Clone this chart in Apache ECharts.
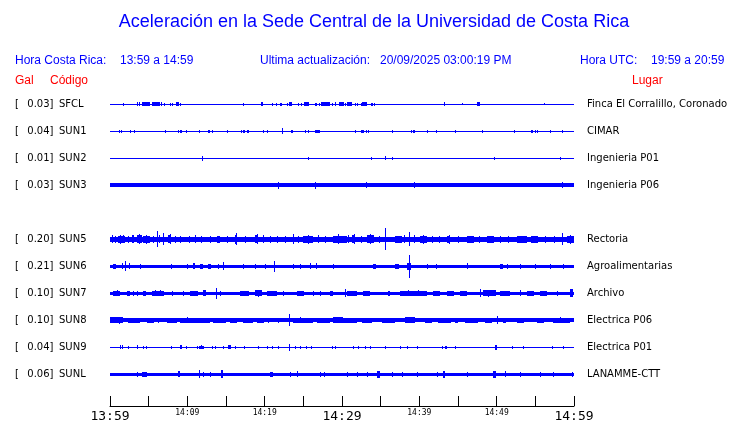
<!DOCTYPE html>
<html>
<head>
<meta charset="utf-8">
<script src="https://cdn.jsdelivr.net/npm/echarts@6/dist/echarts.min.js"></script>
<style>
html,body{margin:0;padding:0;background:#fff;}
#chart{width:740px;height:423px;}
</style>
</head>
<body>
<div id="chart"></div>
<script>
// ---------- data ----------
const titleText = 'Aceleración en la Sede Central de la Universidad de Costa Rica';
const headerLabels = ['Hora Costa Rica:', '13:59 a 14:59', 'Ultima actualización:', '20/09/2025 03:00:19 PM', 'Hora UTC:', '19:59 a 20:59'];
const columnLabels = ['Gal', 'Código', 'Lugar'];
const timeTickLabels = ['13:59', '14:09', '14:19', '14:29', '14:39', '14:49', '14:59']; // every 10 min
const stations = ['SFCL', 'SUN1', 'SUN2', 'SUN3', '', 'SUN5', 'SUN6', 'SUN7', 'SUN8', 'SUN9', 'SUNL'];
const galValues = ['0.03', '0.04', '0.01', '0.03', '', '0.20', '0.21', '0.10', '0.10', '0.04', '0.06'];
const places = ['Finca El Corralillo, Coronado', 'CIMAR', 'Ingenieria P01', 'Ingenieria P06', '', 'Rectoria', 'Agroalimentarias', 'Archivo', 'Electrica P06', 'Electrica P01', 'LANAMME-CTT'];
// background (continuous) half-amplitude of each trace, trace units (27 units = one row)
const baseAmp = [0.5, 0.5, 0.5, 1.8, null, 2.7, 1.7, 1.7, 1.9, 0.6, 1.7];
// bursts: [start minute, end minute, half-amplitude] (minutes after 13:59)
const evSFCL = [[1.72,1.72,1.5],[3.53,3.53,2],[3.79,3.79,2],[4.14,5.17,1.8],[5.39,6.37,1.8],[6.56,6.56,2],[7.02,7.2,1.5],[7.76,7.76,1.5],[8.02,8.02,1.5],[8.53,8.88,1.8],[9.05,9.05,1.5],[17.24,17.24,1.5],[19.53,19.75,1.8],[20.99,20.99,1.5],[21.47,21.47,1.5],[21.98,22.2,1.3],[22.93,22.93,1.5],[23.19,23.63,1.8],[24.35,24.35,1.5],[24.66,24.66,1.5],[25.09,25.77,1.8],[26.51,26.73,1.5],[27.06,27.06,1.5],[27.32,28.45,1.8],[28.75,28.75,1.5],[29.13,29.31,1.8],[29.57,30.17,1.8],[30.43,30.43,1.5],[30.6,31.25,1.8],[31.68,31.68,1.5],[31.9,31.9,1.5],[32.42,32.42,1.5],[32.63,33.27,1.8],[33.75,34.05,1.5],[34.18,34.18,1.5],[43.19,43.32,1.8],[45.48,45.48,1.2],[47.5,47.84,1.8],[56.12,56.12,1]];
const evSUN1 = [[1.19,1.19,1.5],[1.38,1.38,1.5],[2.59,2.59,1.3],[3.04,3.04,1.3],[7.15,7.15,1.3],[8.83,8.83,1.3],[9.05,9.31,1.3],[9.87,9.87,1.3],[11.55,11.55,1.3],[12.63,12.63,1.5],[12.84,12.84,1.5],[13.23,13.23,1.3],[15.17,15.17,1.3],[16.98,16.98,1.3],[17.24,17.46,1.5],[17.67,17.67,1.5],[17.89,17.89,1.5],[19.82,19.82,1.3],[20.34,20.34,1.3],[22.2,22.32,3],[23.4,23.63,1.5],[25.26,25.26,1.3],[25.65,25.65,1.5],[26.51,27.16,1.6],[31.68,31.68,1.3],[32.42,32.76,1.5],[33.06,33.06,1.3],[33.4,33.4,1.3],[36.42,36.42,1.3],[38.88,38.88,1.3],[39.14,39.4,1.5],[40.95,40.95,1.3],[42.11,42.11,1.5],[44.61,44.61,1.3],[48.06,48.19,1.5],[52.28,52.28,1.5],[54.4,54.66,1.5],[54.95,54.95,1.3],[55.25,55.25,1.3],[56.9,56.9,1.3],[58.41,58.41,1.3]];
const evSUN2 = [[11.94,11.94,2.5],[25.65,25.65,1.3],[33.71,33.71,1.5],[35.56,35.56,2],[36.5,36.5,1.5],[49.69,49.69,1.5],[58.19,58.19,1.5]];
const evSUN3 = [[21.77,21.77,3.5],[26.51,26.51,3.5],[33.1,33.1,3],[39.31,39.31,3],[58.4,58.4,3],[59.6,60,2.2]];
const evSUN5 = [[0.22,0.22,4],[0.6,0.6,3.5],[1.08,1.94,3.5],[1.3,1.3,4.5],[1.7,1.7,4],[2.3,2.3,3.5],[2.8,3.02,4],[3.45,4.1,4],[3.7,3.7,5],[4.31,5.17,3.5],[4.6,4.6,4.5],[5.5,5.5,3.5],[6.04,6.04,8],[6.4,6.4,4],[6.9,6.9,6],[7.54,7.97,4],[7.75,7.75,5],[8.4,8.4,3.5],[9.05,9.05,3.5],[10.2,10.2,3.5],[11.0,11.0,4],[11.8,11.8,3.5],[12.93,12.93,3.5],[13.79,14.22,3.3],[15.1,15.1,3.5],[16.16,16.38,4.5],[16.25,16.25,6],[17.4,17.4,3.5],[18.75,19.18,4],[18.95,18.95,5],[19.82,19.82,4],[20.7,20.7,3.5],[21.55,21.55,3.5],[22.6,22.6,3.5],[23.7,23.7,5],[24.3,24.3,3.5],[25.0,26.29,3.5],[25.6,25.6,4.5],[26.94,26.94,4],[27.8,27.8,3.5],[28.88,29.96,3.5],[29.5,29.5,5],[30.82,30.82,4],[29.74,30.6,3.5],[31.25,31.68,4],[31.5,31.5,5],[32.4,32.4,3.5],[33.19,34.05,3.8],[33.6,33.6,5],[34.8,34.8,3.5],[35.56,35.56,11],[36.85,37.7,3.5],[38.0,38.0,4],[38.7,38.7,7],[39.3,39.3,4],[40.09,40.95,3.5],[40.5,40.5,4.5],[41.7,41.7,3.5],[42.6,42.6,3.5],[43.53,43.96,3.5],[43.8,43.8,4.5],[45.0,45.0,3.5],[46.12,46.98,3.3],[47.7,47.7,3.5],[48.71,49.57,3.3],[50.4,50.4,3.5],[51.5,51.5,3.5],[52.59,53.88,3.3],[54.4,55.3,3.3],[56.2,56.2,3.5],[57.4,57.4,3.5],[58.41,58.41,6],[59.06,59.92,3.5],[59.5,59.5,4.5]];
const evSUN6 = [[0.43,0.86,2.5],[1.51,1.51,3],[1.94,1.94,5],[2.5,2.5,3],[3.88,3.88,2.5],[7.84,7.84,2.5],[9.91,9.91,2.5],[10.69,10.99,3],[11.64,12.07,2.5],[12.72,13.15,2.5],[14.0,14.0,2.5],[14.66,14.66,4],[17.24,17.24,2.5],[18.75,18.75,2.5],[20.04,20.04,2.5],[21.25,21.25,5.5],[23.62,23.62,2.5],[24.57,24.57,2.5],[25.86,25.86,3],[26.64,26.64,3],[28.88,28.88,2.5],[34.05,34.4,2.5],[36.85,37.41,2.5],[38.45,38.95,3.5],[38.7,38.7,11.5],[40.95,40.95,2.5],[42.11,42.11,2.5],[46.12,46.12,3],[50.43,50.86,2.5],[51.3,51.3,2.5],[53.02,53.02,2.5],[55.0,55.0,2.5],[56.9,56.9,2.5],[58.62,58.62,2.5]];
const evSUN7 = [[0.43,1.29,2.5],[0.9,0.9,3],[2.16,2.59,2.5],[3.02,3.02,2.5],[3.45,3.45,2.5],[4.31,4.74,2.5],[5.39,6.9,2.7],[5.8,5.8,3.2],[6.5,6.5,3],[7.97,7.97,2.5],[9.48,9.48,2.5],[10.35,11.42,2.5],[12.07,12.5,3],[13.71,13.71,5.3],[14.22,14.22,2.5],[16.81,18.0,2.5],[18.75,19.61,3],[19.2,19.2,3.5],[20.26,21.55,2.5],[22.41,22.41,2.5],[24.14,25.0,2.5],[26.29,26.29,2.5],[27.16,27.16,2.5],[28.45,28.88,2.5],[30.38,30.38,4],[30.6,31.9,2.5],[32.76,33.62,2.5],[35.99,36.2,2.5],[37.5,40.95,2.5],[38.5,38.5,3],[39.8,39.8,3],[41.8,42.67,2.5],[43.53,44.4,2.5],[45.26,46.12,2.5],[47.84,47.84,4],[48.28,49.97,2.8],[48.9,48.9,3.3],[50.43,51.72,2.5],[53.02,53.02,3],[53.88,54.74,2.5],[55.6,56.47,2.5],[57.76,57.76,2.5],[59.5,59.92,3.8]];
const evSUN8 = [[0.0,1.72,2.8],[0.6,0.6,3.2],[1.2,1.2,3.5],[2.37,3.88,2.7],[4.74,5.6,2.5],[6.25,6.25,2.5],[7.33,8.62,2.7],[9.05,12.93,2.5],[10.0,10.0,3],[13.36,15.09,2.5],[15.52,16.38,2.5],[17.24,18.53,2.5],[18.97,19.83,2.5],[20.47,20.47,2.5],[21.77,21.77,2.5],[23.19,23.19,6],[23.7,26.29,2.5],[24.6,24.6,3],[26.72,28.45,2.5],[28.88,30.17,2.8],[29.74,31.9,2.5],[32.55,33.84,2.5],[35.13,36.85,2.5],[38.15,39.44,2.8],[38.8,38.8,3.2],[40.73,41.6,2.5],[42.46,44.18,2.5],[44.61,45.05,2.5],[45.9,47.63,2.5],[48.5,49.35,2.5],[50.0,50.0,4],[50.86,51.29,2.5],[52.59,53.45,2.5],[55.17,56.04,2.5],[57.33,59.5,2.5],[58.2,58.2,3]];
const evSUN9 = [[1.29,1.29,1.8],[1.59,1.59,1.8],[2.37,2.37,1.3],[3.53,3.53,1.8],[4.22,4.22,1.5],[4.66,4.66,1.5],[7.89,7.89,1.3],[9.05,9.27,1.8],[9.83,9.83,1.3],[11.2,11.2,1.3],[11.55,12.16,1.5],[11.8,11.8,2],[13.15,13.15,1.3],[13.58,13.58,1.3],[14.57,14.57,1.3],[15.3,15.73,1.8],[16.16,16.16,1.3],[17.33,17.33,1.5],[19.18,19.18,1.3],[20.26,20.26,1.3],[20.91,20.91,1.3],[21.68,21.68,1.3],[23.19,23.19,3.5],[23.92,23.92,1.5],[24.57,24.57,1.3],[25.34,25.34,1.5],[25.99,25.99,1.3],[28.66,28.66,1.3],[29.09,29.09,1.3],[31.47,31.47,1.3],[32.11,32.11,1.3],[32.97,32.97,1.3],[33.62,33.62,1.3],[35.56,35.56,1.5],[37.5,37.5,1.3],[38.36,38.36,1.3],[39.66,39.66,1.5],[42.89,42.89,1.3],[43.32,43.53,1.5],[44.61,44.61,1.3],[49.78,50.0,2.5],[51.94,51.94,1.3],[53.45,53.45,1.3],[57.11,57.11,1.3],[58.62,58.62,1.3]];
const evSUNL = [[3.53,3.53,2.5],[4.1,4.74,2.5],[8.84,9.05,3],[11.55,11.55,4],[12.07,12.07,2.5],[12.93,12.93,2.5],[14.4,14.7,4],[20.69,21.12,2.5],[23.28,23.28,2.5],[24.14,24.14,3],[27.16,27.16,2.5],[27.67,27.67,2.5],[30.6,30.6,2.5],[31.9,31.9,2.5],[33.19,33.19,2.5],[34.48,34.83,3.5],[36.42,36.42,2.5],[37.72,37.72,2.5],[39.66,39.66,2.5],[42.24,42.24,2.5],[43.1,43.32,3.5],[46.12,46.12,2.5],[49.57,50.0,3.5],[51.08,51.08,3],[53.02,53.02,2.5],[55.6,55.6,2.5],[57.33,57.33,2.5],[59.7,59.7,2.5]];
const stationEvents = [evSFCL, evSUN1, evSUN2, evSUN3, [], evSUN5, evSUN6, evSUN7, evSUN8, evSUN9, evSUNL];

// ---------- build ----------
const TRACE_UNITS_PER_ROW = 27;
const BLUE = '#0000ff';
const traceData = [];
stations.forEach((s, row) => {
  if (!s) return;
  traceData.push([row, 0, 60, baseAmp[row]]);
  stationEvents[row].forEach(e => traceData.push([row, e[0], e[1], e[2]]));
});

const chart = echarts.init(document.getElementById('chart'), null, {renderer: 'canvas'});
const headFont = '12px "Liberation Sans", Arial, sans-serif';
const headX = [15, 120, 260, 380, 580, 651];
const colX = [15, 50, 632];

const graphics = [{
  type: 'text', x: 374, y: 22,
  style: {text: titleText, fill: BLUE, font: '18px "Liberation Sans", Arial, sans-serif', align: 'center', verticalAlign: 'middle'}
}];
headerLabels.forEach((t, i) => graphics.push({
  type: 'text', x: headX[i], y: 61,
  style: {text: t, fill: BLUE, font: headFont, verticalAlign: 'middle'}
}));
columnLabels.forEach((t, i) => graphics.push({
  type: 'text', x: colX[i], y: 81,
  style: {text: t, fill: '#ff0000', font: headFont, verticalAlign: 'middle'}
}));

const labelFont = 'DejaVu Sans';
const option = {
  animation: false,
  backgroundColor: '#ffffff',
  graphic: graphics,
  grid: [
    {left: 110, right: 166, top: 90.8, height: 297},
    {left: 110, right: 166, top: 398, height: 11}
  ],
  xAxis: [
    {gridIndex: 0, type: 'value', min: 0, max: 60, show: false},
    {gridIndex: 1, type: 'value', min: 0, max: 60, interval: 5,
      axisLine: {show: true, lineStyle: {color: '#000', width: 1}},
      axisTick: {show: true, inside: true, length: 10, lineStyle: {color: '#000', width: 1}},
      splitLine: {show: false},
      axisLabel: {
        show: true, margin: 2, showMinLabel: true, showMaxLabel: true, hideOverlap: false,
        formatter: v => {
          if (v % 10 !== 0) return '';
          const t = timeTickLabels[v / 10];
          return v % 30 === 0 ? '{big|' + t + '}' : '{small|' + t + '}';
        },
        rich: {
          big: {fontFamily: 'DejaVu Sans Mono', fontSize: 13, color: '#000', lineHeight: 14, padding: [3, 0, 0, 0]},
          small: {fontFamily: 'DejaVu Sans Mono', fontSize: 8, color: '#000', lineHeight: 9, padding: [1, 0, 0, 0]}
        }
      }
    }
  ],
  yAxis: [
    {gridIndex: 0, type: 'category', inverse: true, data: stations, position: 'left',
      axisLine: {show: false}, axisTick: {show: false}, splitLine: {show: false},
      axisLabel: {
        align: 'left', margin: 95, interval: 0,
        formatter: (v, i) => stations[i] ? '{b|[}{v|' + galValues[i] + ']}{c|' + stations[i] + '}' : '',
        rich: {
          b: {fontFamily: labelFont, fontSize: 10, color: '#000', width: 12.3},
          v: {fontFamily: labelFont, fontSize: 10, color: '#000', width: 31.7},
          c: {fontFamily: labelFont, fontSize: 10, color: '#000'}
        }
      }
    },
    {gridIndex: 0, type: 'category', inverse: true, data: places, position: 'right',
      axisLine: {show: false}, axisTick: {show: false}, splitLine: {show: false},
      axisLabel: {align: 'left', margin: 13, interval: 0, fontFamily: labelFont, fontSize: 10, color: '#000'}
    },
    {gridIndex: 0, type: 'value', inverse: true, min: -0.5, max: 10.5, show: false},
    {gridIndex: 1, type: 'value', show: false}
  ],
  series: [{
    type: 'custom',
    xAxisIndex: 0, yAxisIndex: 2,
    data: traceData,
    encode: {x: [1, 2], y: 0},
    silent: true,
    renderItem: (params, api) => {
      const row = api.value(0), t0 = api.value(1), t1 = api.value(2);
      const a = api.value(3) / TRACE_UNITS_PER_ROW;
      const p0 = api.coord([t0, row - a]);
      const p1 = api.coord([t1, row + a]);
      const x = Math.round(Math.min(p0[0], p1[0]));
      const w = Math.max(1, Math.round(Math.abs(p1[0] - p0[0])));
      const yc = (p0[1] + p1[1]) / 2;
      const h = Math.max(1, Math.round(Math.abs(p1[1] - p0[1])));
      const y = Math.round(yc - h / 2);
      return {type: 'rect', shape: {x: x, y: y, width: w, height: h}, style: {fill: BLUE}};
    }
  }]
};
chart.setOption(option);
</script>
</body>
</html>
